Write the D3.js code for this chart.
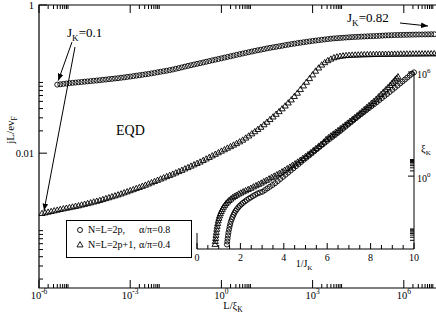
<!DOCTYPE html>
<html>
<head>
<meta charset="utf-8">
<script src="https://d3js.org/d3.v7.min.js"></script>
<style>
  body { margin: 0; background: #fff; }
  svg { display: block; }
</style>
</head>
<body>
<svg id="chart" width="436" height="315" font-family="Liberation Serif, DejaVu Serif, Times New Roman, serif"></svg>
<script>
// main panel points: [log10(L/xi_K), log10(jL/ev_F)]
const circMain = [[-5.4,-1.075],[-5.3,-1.070],[-5.2,-1.065],[-5.1,-1.060],[-5.0,-1.055],[-4.9,-1.051],[-4.8,-1.047],[-4.7,-1.043],[-4.6,-1.039],[-4.5,-1.035],[-4.4,-1.031],[-4.3,-1.027],[-4.2,-1.023],[-4.1,-1.019],[-4.0,-1.015],[-3.9,-1.010],[-3.8,-1.006],[-3.7,-1.001],[-3.6,-0.997],[-3.5,-0.992],[-3.4,-0.988],[-3.3,-0.982],[-3.2,-0.977],[-3.1,-0.971],[-3.0,-0.966],[-2.9,-0.960],[-2.8,-0.954],[-2.7,-0.948],[-2.6,-0.942],[-2.5,-0.936],[-2.4,-0.930],[-2.3,-0.923],[-2.2,-0.916],[-2.1,-0.908],[-2.0,-0.901],[-1.9,-0.894],[-1.8,-0.887],[-1.7,-0.879],[-1.6,-0.871],[-1.5,-0.861],[-1.4,-0.852],[-1.3,-0.842],[-1.2,-0.832],[-1.1,-0.822],[-1.0,-0.813],[-0.9,-0.803],[-0.8,-0.794],[-0.7,-0.785],[-0.6,-0.776],[-0.5,-0.766],[-0.4,-0.757],[-0.3,-0.747],[-0.2,-0.738],[-0.1,-0.729],[0.0,-0.720],[0.1,-0.710],[0.2,-0.701],[0.3,-0.692],[0.4,-0.683],[0.5,-0.673],[0.6,-0.664],[0.7,-0.655],[0.8,-0.646],[0.9,-0.637],[1.0,-0.628],[1.1,-0.619],[1.2,-0.611],[1.3,-0.603],[1.4,-0.595],[1.5,-0.586],[1.6,-0.578],[1.7,-0.571],[1.8,-0.564],[1.9,-0.557],[2.0,-0.550],[2.1,-0.542],[2.2,-0.535],[2.3,-0.528],[2.4,-0.522],[2.5,-0.515],[2.6,-0.509],[2.7,-0.503],[2.8,-0.497],[2.9,-0.491],[3.0,-0.485],[3.1,-0.480],[3.2,-0.475],[3.3,-0.470],[3.4,-0.465],[3.5,-0.460],[3.6,-0.455],[3.7,-0.451],[3.8,-0.448],[3.9,-0.445],[4.0,-0.442],[4.1,-0.439],[4.2,-0.436],[4.3,-0.433],[4.4,-0.431],[4.5,-0.429],[4.6,-0.427],[4.7,-0.425],[4.8,-0.423],[4.9,-0.421],[5.0,-0.420],[5.1,-0.418],[5.2,-0.416],[5.3,-0.413],[5.4,-0.411],[5.5,-0.409],[5.6,-0.408],[5.7,-0.406],[5.8,-0.405],[5.9,-0.404],[6.0,-0.403],[6.1,-0.402],[6.2,-0.401],[6.3,-0.400],[6.4,-0.399],[6.5,-0.398],[6.6,-0.398],[6.7,-0.397],[6.8,-0.396],[6.9,-0.395],[7.0,-0.395]];
const triMain = [[-5.9,-2.816],[-5.8,-2.807],[-5.7,-2.798],[-5.6,-2.789],[-5.5,-2.780],[-5.4,-2.771],[-5.3,-2.762],[-5.2,-2.753],[-5.1,-2.745],[-5.0,-2.737],[-4.9,-2.729],[-4.8,-2.720],[-4.7,-2.712],[-4.6,-2.702],[-4.5,-2.692],[-4.4,-2.682],[-4.3,-2.672],[-4.2,-2.661],[-4.1,-2.651],[-4.0,-2.640],[-3.9,-2.628],[-3.8,-2.615],[-3.7,-2.603],[-3.6,-2.590],[-3.5,-2.578],[-3.4,-2.565],[-3.3,-2.552],[-3.2,-2.537],[-3.1,-2.523],[-3.0,-2.508],[-2.9,-2.494],[-2.8,-2.479],[-2.7,-2.465],[-2.6,-2.449],[-2.5,-2.434],[-2.4,-2.417],[-2.3,-2.401],[-2.2,-2.384],[-2.1,-2.368],[-2.0,-2.351],[-1.9,-2.335],[-1.8,-2.318],[-1.7,-2.302],[-1.6,-2.285],[-1.5,-2.268],[-1.4,-2.250],[-1.3,-2.233],[-1.2,-2.214],[-1.1,-2.196],[-1.0,-2.177],[-0.9,-2.159],[-0.8,-2.140],[-0.7,-2.122],[-0.6,-2.101],[-0.5,-2.080],[-0.4,-2.059],[-0.3,-2.038],[-0.2,-2.017],[-0.1,-1.996],[0.0,-1.975],[0.1,-1.955],[0.2,-1.934],[0.3,-1.914],[0.4,-1.893],[0.5,-1.872],[0.6,-1.849],[0.7,-1.826],[0.8,-1.798],[0.9,-1.770],[1.0,-1.741],[1.1,-1.712],[1.2,-1.682],[1.3,-1.652],[1.4,-1.618],[1.5,-1.584],[1.6,-1.548],[1.7,-1.513],[1.8,-1.477],[1.9,-1.441],[2.0,-1.403],[2.1,-1.365],[2.2,-1.324],[2.3,-1.283],[2.4,-1.237],[2.5,-1.192],[2.6,-1.143],[2.7,-1.094],[2.8,-1.044],[2.9,-0.995],[3.0,-0.945],[3.1,-0.895],[3.2,-0.852],[3.3,-0.812],[3.4,-0.780],[3.5,-0.753],[3.6,-0.732],[3.7,-0.714],[3.8,-0.703],[3.9,-0.694],[4.0,-0.689],[4.1,-0.684],[4.2,-0.681],[4.3,-0.679],[4.4,-0.677],[4.5,-0.676],[4.6,-0.674],[4.7,-0.673],[4.8,-0.672],[4.9,-0.671],[5.0,-0.670],[5.1,-0.669],[5.2,-0.668],[5.3,-0.667],[5.4,-0.667],[5.5,-0.666],[5.6,-0.666],[5.7,-0.665],[5.8,-0.665],[5.9,-0.664],[6.0,-0.664],[6.1,-0.663],[6.2,-0.663],[6.3,-0.662],[6.4,-0.662],[6.5,-0.662],[6.6,-0.661],[6.7,-0.661],[6.8,-0.661],[6.9,-0.660],[7.0,-0.660],[7.1,-0.660]];

// inset points: [1/J_K, log10(xi_K)]
const circInset = [[1.38,-3.94],[1.395,-3.77],[1.41,-3.60],[1.43,-3.42],[1.45,-3.25],[1.475,-3.08],[1.50,-2.92],[1.53,-2.77],[1.56,-2.62],[1.60,-2.48],[1.64,-2.35],[1.685,-2.23],[1.73,-2.11],[1.785,-2.00],[1.84,-1.90],[1.905,-1.80],[1.97,-1.71],[2.045,-1.62],[2.12,-1.54],[2.205,-1.46],[2.29,-1.38],[2.385,-1.30],[2.48,-1.23],[2.58,-1.15],[2.68,-1.08],[2.79,-1.00],[2.90,-0.95],[3.015,-0.90],[3.13,-0.805],[3.245,-0.709],[3.36,-0.612],[3.48,-0.512],[3.60,-0.41],[3.72,-0.288],[3.84,-0.166],[3.96,-0.043],[4.08,0.079],[4.20,0.201],[4.32,0.324],[4.44,0.447],[4.56,0.570],[4.68,0.693],[4.80,0.816],[4.92,0.939],[5.04,1.061],[5.16,1.184],[5.28,1.307],[5.40,1.430],[5.52,1.553],[5.64,1.676],[5.76,1.799],[5.88,1.916],[6.00,2.030],[6.12,2.144],[6.24,2.258],[6.36,2.372],[6.48,2.486],[6.60,2.600],[6.72,2.723],[6.84,2.846],[6.96,2.970],[7.08,3.093],[7.20,3.216],[7.32,3.339],[7.44,3.457],[7.56,3.571],[7.68,3.685],[7.80,3.799],[7.92,3.914],[8.04,4.028],[8.16,4.142],[8.28,4.259],[8.40,4.377],[8.52,4.496],[8.64,4.614],[8.76,4.732],[8.88,4.850],[9.00,4.972],[9.12,5.094],[9.24,5.216],[9.36,5.338],[9.47,5.451],[9.58,5.565],[9.69,5.679],[9.80,5.793],[9.90,5.896],[10.0,5.98]];
const triInset = [[0.83,-3.94],[0.845,-3.77],[0.86,-3.60],[0.875,-3.42],[0.89,-3.25],[0.91,-3.07],[0.93,-2.90],[0.955,-2.74],[0.98,-2.58],[1.01,-2.44],[1.04,-2.30],[1.08,-2.17],[1.12,-2.04],[1.17,-1.92],[1.22,-1.80],[1.28,-1.69],[1.34,-1.59],[1.41,-1.50],[1.48,-1.41],[1.56,-1.33],[1.64,-1.25],[1.73,-1.18],[1.82,-1.11],[1.92,-1.04],[2.02,-0.98],[2.13,-0.91],[2.24,-0.85],[2.36,-0.78],[2.48,-0.71],[2.60,-0.63],[2.72,-0.56],[2.84,-0.48],[2.96,-0.41],[3.08,-0.33],[3.20,-0.25],[3.32,-0.17],[3.44,-0.09],[3.56,-0.01],[3.68,0.07],[3.80,0.15],[3.92,0.24],[4.04,0.33],[4.16,0.42],[4.28,0.51],[4.40,0.61],[4.52,0.70],[4.64,0.80],[4.76,0.90],[4.88,1.01],[5.00,1.12],[5.12,1.23],[5.24,1.34],[5.36,1.46],[5.48,1.58],[5.60,1.70],[5.72,1.82],[5.84,1.95],[5.95,2.101],[6.06,2.204],[6.17,2.307],[6.28,2.410],[6.39,2.513],[6.50,2.616],[6.61,2.719],[6.72,2.827],[6.83,2.934],[6.94,3.041],[7.05,3.148],[7.16,3.255],[7.27,3.362],[7.38,3.471],[7.49,3.589],[7.60,3.707],[7.71,3.824],[7.82,3.942],[7.93,4.060],[8.04,4.178],[8.15,4.296],[8.26,4.424],[8.37,4.559],[8.48,4.695],[8.59,4.830],[8.70,4.966],[8.80,5.089],[8.90,5.214],[8.98,5.325],[9.05,5.422],[9.13,5.534],[9.20,5.631],[9.26,5.715]];

// ticks (exponents for log axes)
const mainXMajor = [-6, -3, 0, 3, 6];
const mainYMajor = [0, -2, -4];
const mainYLabels = { "0": "1", "-2": "0.01" };
const insetXMajor = [0, 2, 4, 6, 8, 10];
const insetXMinor = [0.5, 1, 1.5, 2.5, 3, 3.5, 4.5, 5, 5.5, 6.5, 7, 7.5, 8.5, 9, 9.5];
const insetYMajor = [0, 6];
const minorMult = [2, 3, 4, 5, 6, 7, 8, 9];

const legendRows = [
  { sym: "circle", name: "N=L=2p,", par: "α/π=0.8" },
  { sym: "triangle", name: "N=L=2p+1,", par: "α/π=0.4" }
];

const svg = d3.select("#chart");
const p10 = (e) => Math.pow(10, e);

// main scales
const x = d3.scaleLog().domain([1e-6, p10(7.5)]).range([39, 449.4]);
const y = d3.scaleLog().domain([p10(-3.82), 1]).range([288, 5]);

// inset scales
const xi = d3.scaleLinear().domain([0, 10]).range([197, 414]);
const yi = d3.scaleLog().domain([p10(-4.2), 1e6]).range([249, 72]);

const minorOf = (majors, lo, hi) => {
  const out = [];
  majors.forEach((m) => minorMult.forEach((k) => {
    const v = p10(m) * k;
    if (v > lo && v < hi) out.push(v);
  }));
  return out;
};

const ink = "#000";

// ---- main frame ----
const main = svg.append("g");
main.append("path")
  .attr("d", `M${x.range()[1]},5 H39 V288 H${x.range()[1]}`)
  .attr("fill", "none").attr("stroke", ink).attr("stroke-width", 1.2);

function ticks(g, vals, len, orient) {
  vals.forEach((v) => {
    if (orient === "bottom") g.append("line").attr("x1", x(v)).attr("x2", x(v)).attr("y1", 288).attr("y2", 288 - len);
    if (orient === "top") g.append("line").attr("x1", x(v)).attr("x2", x(v)).attr("y1", 5).attr("y2", 5 + len);
    if (orient === "left") g.append("line").attr("y1", y(v)).attr("y2", y(v)).attr("x1", 39).attr("x2", 39 + len);
  });
}
const tg = main.append("g").attr("stroke", ink).attr("stroke-width", 1);
const xMaj = mainXMajor.map(p10);
const xMin = minorOf(mainXMajor, 1e-6, p10(7.5));
const yMaj = mainYMajor.map(p10).filter((v) => v >= y.domain()[0]);
const yMin = minorOf(mainYMajor, y.domain()[0], 1);
ticks(tg, xMaj, 8, "bottom"); ticks(tg, xMin, 4, "bottom");
ticks(tg, xMaj, 8, "top"); ticks(tg, xMin, 4, "top");
ticks(tg, yMaj, 8, "left"); ticks(tg, yMin, 4, "left");

// x tick labels 10^n
mainXMajor.forEach((e) => {
  const t = main.append("text").attr("x", x(p10(e))).attr("y", 299)
    .attr("text-anchor", "middle").attr("font-size", 10.5);
  t.append("tspan").text("10");
  t.append("tspan").attr("dy", -5).attr("font-size", 7.5).text(e);
});
// y tick labels
mainYMajor.forEach((e) => {
  if (!mainYLabels[e]) return;
  main.append("text").attr("x", 34).attr("y", y(p10(e)) + 3.5)
    .attr("text-anchor", "end").attr("font-size", 10.5).text(mainYLabels[e]);
});

// axis titles
const xt = main.append("text").attr("x", 233).attr("y", 309).attr("text-anchor", "middle").attr("font-size", 10.5);
xt.append("tspan").text("L/ξ");
xt.append("tspan").attr("dy", 3).attr("font-size", 7.5).text("K");
const yt = main.append("text").attr("transform", "translate(14,130) rotate(-90)")
  .attr("text-anchor", "middle").attr("font-size", 11);
yt.append("tspan").text("jL/ev");
yt.append("tspan").attr("dy", 3).attr("font-size", 7.5).text("F");

// ---- markers ----
const triPath = "M0,-3.4 L3,1.9 L-3,1.9 Z";
function drawSeries(g, data, sx, sy, sym) {
  const sel = g.selectAll(null).data(data);
  if (sym === "circle") {
    sel.join("circle")
      .attr("cx", (d) => sx(d[0])).attr("cy", (d) => sy(d[1]))
      .attr("r", 2.5).attr("fill", "none").attr("stroke", ink).attr("stroke-width", 0.9);
  } else {
    sel.join("path")
      .attr("transform", (d) => `translate(${sx(d[0])},${sy(d[1])})`)
      .attr("d", triPath).attr("fill", "none").attr("stroke", ink).attr("stroke-width", 0.9);
  }
}
const mx = (v) => x(p10(v)), my = (v) => y(p10(v));
drawSeries(main.append("g"), circMain, mx, my, "circle");
drawSeries(main.append("g"), triMain, mx, my, "triangle");

// ---- inset ----
const inset = svg.append("g");
inset.append("path")
  .attr("d", `M414,72 V249 H197 V233`)
  .attr("fill", "none").attr("stroke", ink).attr("stroke-width", 1);
const ig = inset.append("g").attr("stroke", ink).attr("stroke-width", 1);
insetXMajor.forEach((v) => ig.append("line").attr("x1", xi(v)).attr("x2", xi(v)).attr("y1", 249).attr("y2", 243));
insetXMinor.forEach((v) => ig.append("line").attr("x1", xi(v)).attr("x2", xi(v)).attr("y1", 249).attr("y2", 245));
insetYMajor.map(p10).forEach((v) => ig.append("line").attr("y1", yi(v)).attr("y2", yi(v)).attr("x1", 414).attr("x2", 408));
minorOf([-6, 0, 6, -4], yi.domain()[0], 1e6).forEach((v) => ig.append("line").attr("y1", yi(v)).attr("y2", yi(v)).attr("x1", 414).attr("x2", 410));

insetXMajor.forEach((v) => {
  inset.append("text").attr("x", xi(v)).attr("y", 261).attr("text-anchor", "middle")
    .attr("font-size", 10).text(v);
});
insetYMajor.forEach((e) => {
  const t = inset.append("text").attr("x", 417).attr("y", yi(p10(e)) + 6).attr("font-size", 10);
  t.append("tspan").text("10");
  t.append("tspan").attr("dy", -5).attr("font-size", 7).text(e);
});
const ixt = inset.append("text").attr("x", 304).attr("y", 267).attr("text-anchor", "middle").attr("font-size", 10);
ixt.append("tspan").text("1/J");
ixt.append("tspan").attr("dy", 3).attr("font-size", 7).text("K");
const iyt = inset.append("text").attr("x", 421).attr("y", 152).attr("font-size", 10.5);
iyt.append("tspan").text("ξ");
iyt.append("tspan").attr("dy", 3).attr("font-size", 7).text("K");

const ix = (v) => xi(v), iy = (v) => yi(p10(v));
drawSeries(inset.append("g"), circInset, ix, iy, "circle");
drawSeries(inset.append("g"), triInset, ix, iy, "triangle");

// ---- annotations ----
svg.append("defs").append("marker").attr("id", "ah")
  .attr("viewBox", "0 0 10 10").attr("refX", 10).attr("refY", 5)
  .attr("markerWidth", 7).attr("markerHeight", 7).attr("orient", "auto")
  .attr("markerUnits", "userSpaceOnUse")
  .append("path").attr("d", "M0,1 L10,5 L0,9 Z").attr("fill", ink);

function label(xp, yp, sub, rest, size) {
  const t = svg.append("text").attr("x", xp).attr("y", yp).attr("font-size", size);
  t.append("tspan").text("J");
  t.append("tspan").attr("dy", 4).attr("font-size", size * 0.7).text(sub);
  t.append("tspan").attr("dy", -4).text(rest);
}
label(67, 37, "K", "=0.1", 13);
label(347, 22, "K", "=0.82", 13);

const c0 = circMain[0], t0 = triMain[0];
const arrows = [
  [72, 42, mx(c0[0]) + 1, my(c0[1]) - 4],
  [75, 47, mx(t0[0]) + 2, my(t0[1]) - 3],
  [400, 23, 428, 26]
];
arrows.forEach((a) => svg.append("line")
  .attr("x1", a[0]).attr("y1", a[1]).attr("x2", a[2]).attr("y2", a[3])
  .attr("stroke", ink).attr("stroke-width", 1).attr("marker-end", "url(#ah)"));

svg.append("text").attr("x", 116).attr("y", 135).attr("font-size", 14).text("EQD");

// ---- legend ----
const lg = svg.append("g");
lg.append("rect").attr("x", 66.5).attr("y", 220.5).attr("width", 125).attr("height", 37)
  .attr("fill", "#fff").attr("stroke", ink).attr("stroke-width", 1);
legendRows.forEach((r, i) => {
  const yy = 233 + i * 15;
  if (r.sym === "circle") lg.append("circle").attr("cx", 80).attr("cy", yy - 3).attr("r", 2.5)
    .attr("fill", "none").attr("stroke", ink).attr("stroke-width", 0.9);
  else lg.append("path").attr("transform", `translate(80,${yy - 3})`).attr("d", triPath)
    .attr("fill", "none").attr("stroke", ink).attr("stroke-width", 0.9);
  lg.append("text").attr("x", 88).attr("y", yy).attr("font-size", 10).text(r.name);
  lg.append("text").attr("x", 139).attr("y", yy).attr("font-size", 10).text(r.par);
});
</script>
</body>
</html>
